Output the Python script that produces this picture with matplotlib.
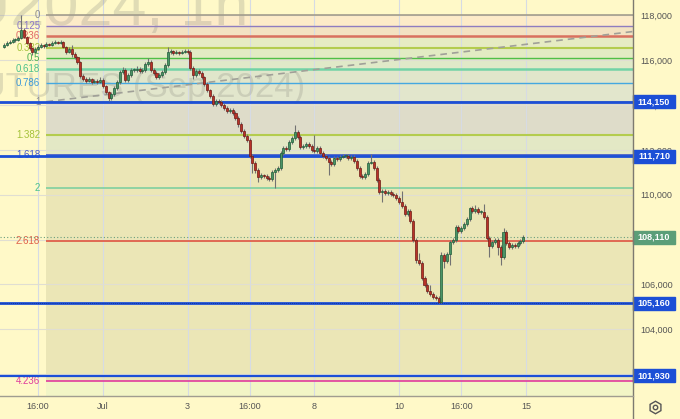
import matplotlib
matplotlib.use('Agg')
import matplotlib.pyplot as plt
import pandas as pd
from matplotlib.patches import Rectangle
from matplotlib.lines import Line2D

# ---------------- data ----------------
first_open = 116590
closes = [116680,116770,116810,116900,116900,116990,117350,117030,116770,116540,
          116360,116500,116590,116680,116630,116720,116680,116770,116810,116770,
          116810,116590,116360,116500,116270,116140,115920,115290,115160,115070,
          115160,115030,115070,115030,115120,114850,114580,114310,114490,114760,
          115030,115470,115560,115120,115340,115560,115560,115610,115520,115560,
          115830,115920,115560,115430,115250,115340,115470,115780,116360,116410,
          116320,116360,116320,116360,116410,116360,115650,115340,115520,115430,
          115250,114940,114670,114400,114050,114180,114140,114000,113870,113730,
          113780,113650,113420,113150,112840,112620,112440,111730,111420,111100,
          110790,110880,110840,110750,110700,111010,111100,111190,111860,112080,
          112040,112350,112530,112800,112570,112130,112170,112260,112170,112000,
          111950,112080,111860,111730,111640,111460,111370,111640,111590,111680,
          111730,111730,111640,111680,111500,111190,110840,110790,110930,111420,
          111460,111190,110660,110120,110170,110080,110120,110030,109990,109860,
          109680,109500,109140,109280,108830,107980,107090,106960,106290,105980,
          105710,105580,105440,105400,105220,107310,107050,107360,107890,107980,
          108560,108380,108510,108700,108920,109410,109280,109370,109230,109230,
          109010,108070,107720,107890,107980,107670,107230,108340,107850,107670,
          107760,107720,107850,107940,108110]
highs = [116760,116850,116900,116990,116990,117080,118010,117440,117080,116810,
         116590,116590,116680,116770,116730,116810,116770,116860,116900,116860,
         116900,116860,116630,116590,116680,116360,116180,115960,115380,115250,
         115250,115200,115160,115160,115250,115200,114900,114630,114580,114850,
         115120,115560,115690,115650,115430,115650,115650,115740,115690,115650,
         115920,116100,116010,115650,115520,115430,115560,115870,116590,116500,
         116450,116450,116410,116450,116500,116500,116450,115740,115610,115610,
         115520,115290,115030,114720,114490,114270,114270,114220,114090,113960,
         113870,113870,113730,113510,113240,112930,112710,112530,111820,111500,
         111190,110970,110930,110930,110840,111100,111190,111280,111950,112170,
         112170,112440,112620,113110,112890,112660,112260,112350,112350,112260,
         112660,112170,112170,111950,111820,111730,111550,111730,111730,111770,
         111820,111820,111820,111770,111770,111590,111280,110930,111020,111500,
         111820,111550,111280,110750,110260,110260,110210,110210,110120,110080,
         109950,110170,109590,109370,109370,108920,108070,107400,107050,106380,
         106070,105980,105670,105530,105490,107450,107400,107450,107980,108070,
         108650,108650,108600,108790,109010,109460,109500,109550,109460,109320,
         109590,109100,108160,107980,108070,108070,107760,108520,108430,107940,
         107850,107850,107940,108030,108200]
lows = [116540,116630,116720,116760,116810,116850,116940,116990,116720,116450,
        116230,116320,116450,116540,116540,116590,116630,116630,116720,116720,
        116720,116540,116270,116320,116140,116050,115830,115200,115070,114980,
        115030,114940,114980,114940,114980,114760,114490,114180,114220,114400,
        114670,114940,115380,115030,115030,115250,115470,115470,115430,115430,
        115470,115740,115470,115340,115160,115160,115250,115380,115690,116270,
        116230,116270,116230,116270,116320,116270,115560,115160,115250,115340,
        115160,114850,114580,114310,113960,113960,114050,113910,113780,113650,
        113650,113560,113330,113020,112750,112530,112350,111640,110970,110970,
        110570,110700,110750,110660,110610,110610,110300,111010,111100,111770,
        111950,111950,112260,112440,112480,112040,112040,112080,112080,111910,
        111860,111860,111770,111640,111550,110880,111280,111280,111500,111500,
        111640,111640,111550,111550,111410,111100,110750,110700,110700,110840,
        111370,111100,110570,110030,109680,109990,109990,109940,109900,109770,
        109590,109410,109050,109050,108740,107890,106960,106870,106200,105890,
        105620,105490,105350,105310,105160,105160,106740,106960,106870,107800,
        107890,108290,108290,108420,108610,108830,109190,109190,109140,109140,
        108920,107980,107230,107630,107800,107320,106870,107140,107760,107580,
        107580,107630,107630,107760,107850]

first_bar_time = '2024-06-26 19:00'
fib_levels = [0, 0.125, 0.236, 0.382, 0.5, 0.618, 0.786, 1, 1.382, 1.618, 2, 2.618, 4.236]
fib_names = ['0', '0.125', '0.236', '0.382', '0.5', '0.618', '0.786', '1',
             '1.382', '1.618', '2', '2.618', '4.236']
fib_price_0 = 118000
fib_price_1 = 114150
fib_start_time = '2024-06-27 19:00'
trend_start = ('2024-06-27 19:00', 114150)
trend_end_bar, trend_end_price = 271, 118000
blue_levels = [114150, 111710, 105160, 101930]
last_price = 108110
x_tick_times = ['2024-06-27 16:00', '2024-07-01 09:00', '2024-07-03 09:00', '2024-07-04 16:00',
                '2024-07-08 09:00', '2024-07-10 09:00', '2024-07-11 16:00', '2024-07-15 09:00']
x_tick_labels = ['16:00', 'Jul', '3', '16:00', '8', '10', '16:00', '15']
y_ticks = [102000, 104000, 106000, 108000, 110000, 112000, 114000, 116000, 118000]
title_line1 = 'RIU2024, 1h'
title_line2 = 'RTS INDEX FUTURES (Sep 2024)'

# ---------------- styles ----------------
BG = '#FFF9C8'
FONT = 'Liberation Sans'
fib_line_colors = ['#a39d8c', '#8f7cc0', '#d9705f', '#b4cc4e', '#4fbf46', '#72d3a6', '#45a8e0',
                   '#9a978a', '#b4cc4e', '#4a5fc8', '#7fd0a0', '#e0604a', '#e03c9c']
fib_line_widths = [1.2, 1.0, 1.8, 1.5, 1.0, 1.8, 1.0, 1.2, 1.5, 1.3, 1.2, 1.3, 1.2]
fib_label_colors = ['#8c8c8c', '#8c78c8', '#e06666', '#a5c23a', '#4caf50', '#4dc28c', '#3d9ad9',
                    '#8c8c8c', '#a5c23a', '#4a5fc8', '#4dc28c', '#e0604a', '#e03c9c']
fib_fill_colors = ['#FDEBC8', '#F3E2C2', '#E6EBC3', '#E2EBC3', '#E0E9C8', '#E0E6CB', '#E2E6CC',
                   '#DEDCC9', '#E3E8C5', '#EBE6B6', '#EBE6B6', '#EBE6B6']
below_fill = '#F2F5C6'
BLUE = '#1c4fd6'

# ---------------- time axis ----------------
rng = pd.date_range(first_bar_time, '2024-07-16 00:00', freq='h')
rng = rng[(rng.dayofweek < 5) & (rng.hour >= 9)]
pos = {t: i for i, t in enumerate(rng)}
n = len(closes)
idx = list(range(n))
opens = [first_open] + closes[:-1]

X0, X1 = -1.47, 222.9
Y0, Y1 = 101028, 118682
dpp = (Y1 - Y0) / 396.0

fig = plt.figure(figsize=(6.8, 4.19), dpi=100, facecolor=BG)
ax = fig.add_axes([0, 23 / 419, 633 / 680, 396 / 419])
ax.set_facecolor(BG)
ax.set_xlim(X0, X1)
ax.set_ylim(Y0, Y1)
for s in ax.spines.values():
    s.set_visible(False)

# fib fills and lines
fs = pos[pd.Timestamp(fib_start_time)]
rngp = fib_price_0 - fib_price_1
fib_prices = [fib_price_0 - lv * rngp for lv in fib_levels]
for k in range(len(fib_prices) - 1):
    ax.fill_between([fs, X1], fib_prices[k + 1], fib_prices[k], color=fib_fill_colors[k],
                    lw=0, zorder=1)
ax.fill_between([fs, X1], Y0, fib_prices[-1], color=below_fill, lw=0, zorder=1)

# grid
for t in x_tick_times:
    ax.axvline(pos[pd.Timestamp(t)], color='#d6dbe4', lw=0.8, zorder=1.3)
for v in y_ticks:
    ax.axhline(v, color='#e0ded2', lw=0.8, zorder=1.3)

# watermark
ax.text(248 / 633, 1 - 25 / 396, title_line1, transform=ax.transAxes, ha='right',
        va='baseline', fontsize=44, color='#8a8a80', alpha=0.26, family=FONT, zorder=1.6,
        clip_on=True)
ax.text(305 / 633, 1 - 97 / 396, title_line2, transform=ax.transAxes, ha='right',
        va='baseline', fontsize=25, color='#8a8a80', alpha=0.26, family=FONT, zorder=1.6,
        clip_on=True)

for p, c, w in zip(fib_prices, fib_line_colors, fib_line_widths):
    ax.hlines(p, fs, X1, color=c, lw=w, zorder=2)
for p, name, c in zip(fib_prices, fib_names, fib_label_colors):
    ax.text(fs - 2.2, p, name, ha='right', va='center', fontsize=7, color=c,
            family=FONT, zorder=2.5)

# dashed trend line
ts = pos[pd.Timestamp(trend_start[0])]
ax.plot([ts, trend_end_bar], [trend_start[1], trend_end_price], color='#a0a098',
        lw=1.2, ls=(0, (4, 3)), zorder=2.2)

# blue levels
for p in blue_levels:
    ax.axhline(p, color=BLUE, lw=2.0 if p != blue_levels[-1] else 1.6, zorder=3)
ax.axhline(blue_levels[2], color='#0d2f8a', lw=0.6, ls=(0, (1, 1.5)), zorder=3.1)
ax.axhline(last_price, color='#6a9e7e', lw=0.8, ls=(0, (1, 2)), zorder=3)

# candles
up_c, up_e = '#4a9466', '#1f5c3a'
dn_c, dn_e = '#b83228', '#6e1a14'
ax.vlines(idx, lows, highs, color='#727272', lw=0.8, zorder=4)
for i in idx:
    o, c = opens[i], closes[i]
    up = c >= o
    hgt = max(abs(c - o), 30)
    ax.bar(i, hgt, bottom=min(o, c), width=0.72, color=up_c if up else dn_c,
           edgecolor=up_e if up else dn_e, lw=0.5, zorder=5)

# axes ticks
xt = [pos[pd.Timestamp(t)] for t in x_tick_times]
ax.set_xticks(xt, x_tick_labels)
ax.tick_params(axis='x', length=0, pad=4, labelsize=6.5, labelcolor='#555555')
ax.yaxis.tick_right()
ax.set_yticks(y_ticks, [f'{v:,}' for v in y_ticks])
ax.tick_params(axis='y', length=0, pad=5.5, labelsize=6.5, labelcolor='#555555')
for lab in ax.get_xticklabels() + ax.get_yticklabels():
    lab.set_family(FONT)

# price boxes
bw = 42 / 633
boxes = [(p, BLUE) for p in blue_levels] + [(last_price, '#5b9e78')]
for p, col in boxes:
    ax.add_patch(Rectangle((1.0, p - 6.5 * dpp), bw, 13 * dpp, transform=ax.get_yaxis_transform(),
                           clip_on=False, fc=col, ec=col, zorder=10))
    ax.text(1.0 + bw / 2, p, f'{p:,}', transform=ax.get_yaxis_transform(), ha='center',
            va='center', color='white', fontsize=6.5, fontweight='bold', family=FONT,
            clip_on=False, zorder=11)

# axis lines
fig.add_artist(Line2D([633 / 680, 633 / 680], [0, 1], color='#7d7a70', lw=1.0,
                      transform=fig.transFigure))
fig.add_artist(Line2D([0, 633 / 680], [23 / 419, 23 / 419], color='#a09d90', lw=1.0,
                      transform=fig.transFigure))
# settings icon
fig.add_artist(Line2D([655 / 680], [1 - 407 / 419], marker='h', markersize=9, mfc='none',
                      mec='#555555', mew=1.0, transform=fig.transFigure))
fig.add_artist(Line2D([655 / 680], [1 - 407 / 419], marker='o', markersize=3.2, mfc='none',
                      mec='#555555', mew=1.0, transform=fig.transFigure))

fig.savefig('out.png', dpi=100, facecolor=BG)
